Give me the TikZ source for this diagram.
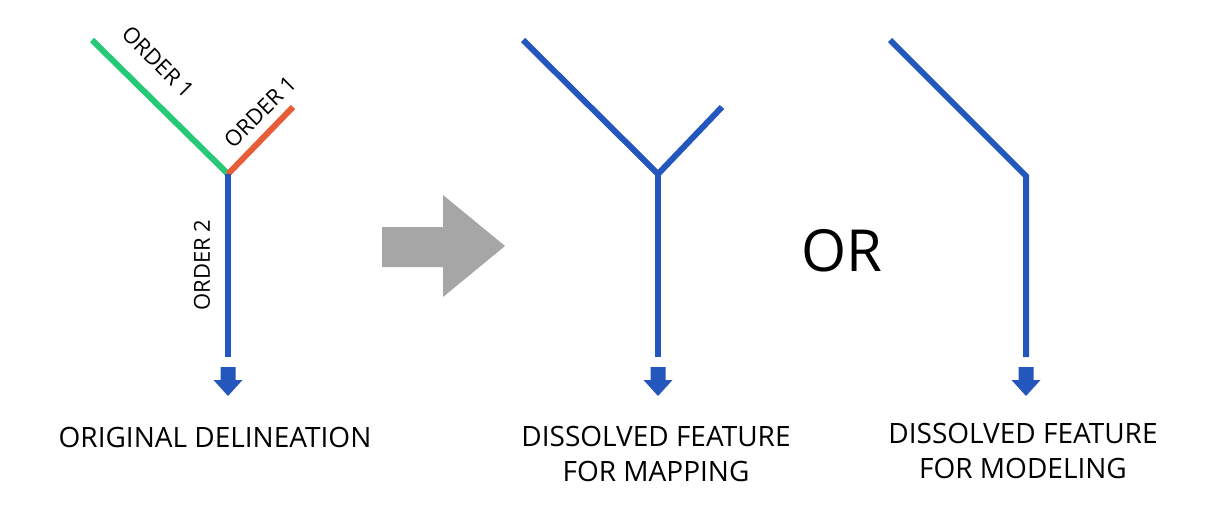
\documentclass[tikz,border=0pt]{standalone}
\usepackage{fontspec}
\setmainfont{Open Sans}
\usetikzlibrary{calc}
\definecolor{lblue}{RGB}{36,87,190}
\definecolor{lgreen}{RGB}{38,201,120}
\definecolor{lred}{RGB}{229,94,56}
\definecolor{lgray}{RGB}{166,166,166}
\begin{document}
\begin{tikzpicture}[x=1pt,y=-1pt,
  seg/.style={line width=6pt},
  lbl/.style={font=\fontsize{22}{24}\selectfont, inner sep=0pt},
  captext/.style={font=\fontsize{28}{35}\selectfont, align=center, inner sep=0pt},
  downarrow/.pic={\fill[lblue] (-7.5,0) -- (7.5,0) -- (7.5,13) -- (14.5,13) -- (0,29) -- (-14.5,13) -- (-7.5,13) -- cycle;}]
\useasboundingbox (0,0) rectangle (1224,509);
% left
\coordinate (a1) at (92,40);
\coordinate (a0) at (228,174);
\coordinate (a2) at (293,107);
\coordinate (a3) at (228,357);
\draw[seg,lgreen] (a1) -- (a0);
\draw[seg,lred] (a0) -- (a2);
\draw[seg,lblue] (a0) -- (a3);
\pic at (228,367) {downarrow};
\node[lbl,rotate=-45] (l1) at (158,62) {ORDER 1};
\node[lbl,rotate=45] (l2) at (260,112) {ORDER 1};
\node[lbl,rotate=90] (l3) at (202,265) {ORDER 2};
\node[captext] (c1) at (215,437) {ORIGINAL DELINEATION};
% gray arrow
\fill[lgray] (382,227) -- (443,227) -- (443,195) -- (505,246) -- (443,297) -- (443,267) -- (382,267) -- cycle;
% middle
\coordinate (b1) at (523,40);
\coordinate (b0) at (658,174);
\coordinate (b2) at (722,107);
\coordinate (b3) at (658,357);
\draw[seg,lblue] (b1) -- (b0) -- (b2);
\draw[seg,lblue] (b0) -- (b3);
\pic at (658,367) {downarrow};
\node[captext] (c2) at (656,454) {DISSOLVED FEATURE\\FOR MAPPING};
% OR
\node[font=\fontsize{58}{64}\selectfont, inner sep=0pt] (or) at (842,251) {OR};
% right
\coordinate (d1) at (890,40);
\coordinate (d0) at (1026,176);
\coordinate (d3) at (1026,357);
\draw[seg,lblue,line join=miter] (d1) -- (d0) -- (d3);
\pic at (1026,367) {downarrow};
\node[captext] (c3) at (1023,451) {DISSOLVED FEATURE\\FOR MODELING};
\end{tikzpicture}
\end{document}
